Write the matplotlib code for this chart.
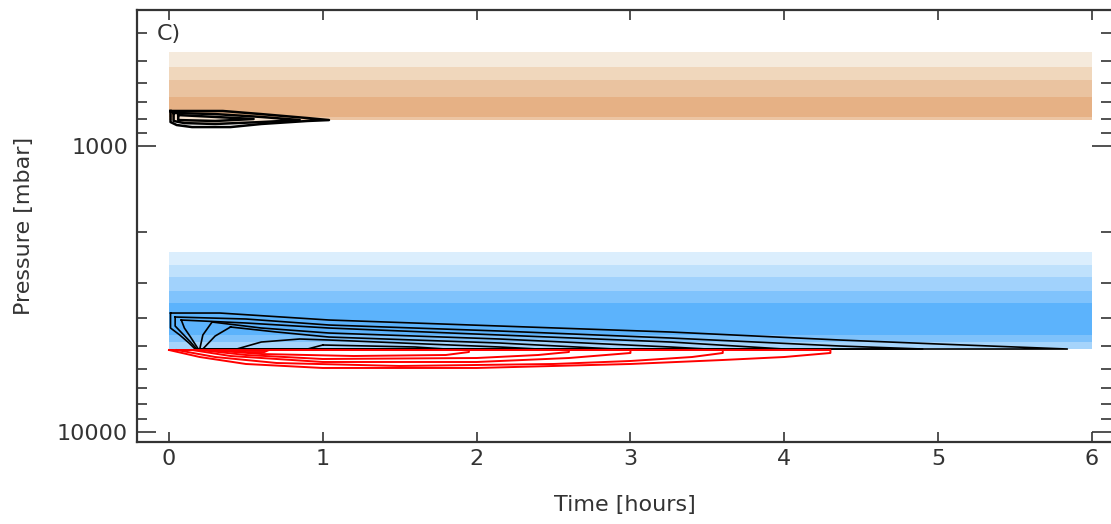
import matplotlib
matplotlib.use("Agg")
import matplotlib.pyplot as plt
from matplotlib.ticker import LogLocator, NullFormatter

# time axis of the shaded bands (hours)
band_time = [0, 6]

# pressure levels bounding the shaded bands (mbar) and their colours
upper_edges = [467, 527, 585, 671, 788, 808]
upper_colors = ["#f5eadc", "#f0d7bc", "#eac3a0", "#e6b185", "#ecc5a3"]
lower_edges = [2342, 2601, 2865, 3208, 3534, 4574, 4840, 5100]
lower_colors = ["#dbeefd", "#bfe1fc", "#a1d2fc", "#80c3fc", "#5cb3fc", "#7fc2fb", "#a6d4fb"]

# black contours in the upper band (time, pressure)
upper_lines = [
    ([0.01, 0.35, 0.6, 0.9, 1.04, 0.9, 0.6, 0.4, 0.15, 0.05, 0.01, 0.01],
     [751, 751, 770, 795, 808, 814, 834, 855, 855, 841, 821, 751]),
    ([0.03, 0.3, 0.6, 0.85, 0.6, 0.3, 0.1, 0.03, 0.03],
     [763, 770, 788, 808, 821, 834, 828, 814, 763]),
    ([0.06, 0.3, 0.55, 0.3, 0.06, 0.06],
     [776, 788, 801, 814, 808, 776]),
]

# black contours in the lower band
lower_lines = [
    ([0.01, 0.33, 1.04, 2.15, 3.26, 4.36, 5.0, 5.84, 0.17, 0.13, 0.07, 0.01, 0.01],
     [3831, 3831, 4053, 4254, 4465, 4762, 4918, 5121, 5121, 4879, 4574, 4323, 3831]),
    ([0.04, 0.5, 1.04, 2.15, 3.26, 4.36, 4.9, 0.18, 0.14, 0.09, 0.04, 0.04],
     [3956, 4020, 4220, 4429, 4686, 4998, 5121, 5121, 4840, 4537, 4254, 3956]),
    ([0.08, 0.5, 1.04, 2.15, 3.26, 4.0, 0.19, 0.14, 0.1, 0.08],
     [4053, 4152, 4323, 4574, 4840, 5121, 5121, 4649, 4323, 4053]),
    ([0.28, 0.6, 1.04, 2.15, 3.26, 3.5, 0.2, 0.22, 0.28],
     [4119, 4323, 4501, 4724, 5039, 5121, 5121, 4574, 4119]),
    ([0.4, 0.7, 1.04, 2.15, 2.9, 0.22, 0.3, 0.4],
     [4288, 4465, 4649, 4879, 5121, 5121, 4611, 4288]),
    ([0.44, 0.6, 0.85, 1.04, 2.15, 2.4, 0.44],
     [5121, 4840, 4724, 4762, 5039, 5121, 5121]),
    ([1.0, 1.6, 1.8, 0.9, 1.0],
     [4958, 5039, 5121, 5121, 4958]),
]

# red contours below the lower band
red_lines = [
    ([0, 0.2, 0.5, 1.0, 2.0, 3.0, 3.6, 4.0, 4.3, 4.3, 0],
     [5162, 5462, 5778, 5967, 5967, 5778, 5595, 5462, 5288, 5162, 5162]),
    ([0.05, 0.3, 0.7, 1.5, 2.5, 3.0, 3.4, 3.6, 3.6, 0.05],
     [5162, 5462, 5732, 5872, 5778, 5640, 5462, 5288, 5162, 5162]),
    ([0.15, 0.4, 1.0, 2.0, 2.6, 3.0, 3.0, 0.15],
     [5162, 5418, 5686, 5686, 5506, 5288, 5162, 5162]),
    ([0.2, 0.5, 1.0, 2.0, 2.4, 2.6, 2.6, 0.2],
     [5162, 5374, 5550, 5506, 5374, 5246, 5162, 5162]),
    ([0.25, 0.6, 1.2, 1.8, 1.95, 1.95, 0.25],
     [5162, 5331, 5418, 5374, 5246, 5162, 5162]),
    ([0.35, 0.5, 0.62, 0.65, 0.35],
     [5162, 5246, 5246, 5162, 5162]),
]

x_ticks = [0, 1, 2, 3, 4, 5, 6]
y_ticks = [1000, 10000]
y_ticklabels = ["1000", "10000"]

text_color = "#333333"
plt.rcParams["font.family"] = ["DejaVu Sans"]

fig = plt.figure(figsize=(11.11, 5.24), dpi=100)
ax = fig.add_axes([137 / 1111, 82 / 524, 974 / 1111, 432 / 524])

for lo, hi, c in zip(upper_edges[:-1], upper_edges[1:], upper_colors):
    ax.fill_between(band_time, lo, hi, color=c, lw=0)
for lo, hi, c in zip(lower_edges[:-1], lower_edges[1:], lower_colors):
    ax.fill_between(band_time, lo, hi, color=c, lw=0)

ax.fill(upper_lines[1][0], upper_lines[1][1], color="#f6e2ce", lw=0)
for t, p in upper_lines:
    ax.plot(t, p, color="black", lw=1.8)
for t, p in lower_lines:
    ax.plot(t, p, color="black", lw=1.2)
for t, p in red_lines:
    ax.plot(t, p, color="#ff0000", lw=1.4)

ax.set_yscale("log")
ax.set_xlim(-0.208, 6.124)
ax.set_ylim(10840, 332.6)

ax.set_xticks(x_ticks)
ax.set_yticks(y_ticks)
ax.set_yticklabels(y_ticklabels)
ax.yaxis.set_minor_locator(LogLocator(base=10, subs=range(2, 10)))
ax.yaxis.set_minor_formatter(NullFormatter())

ax.tick_params(axis="x", which="major", direction="in", length=7.5, width=1.2,
               top=True, bottom=True, pad=5, labelsize=16, labelcolor=text_color,
               color=text_color)
ax.tick_params(axis="y", which="major", direction="in", length=14, width=1.2,
               left=True, right=True, pad=6.5, labelsize=16, labelcolor=text_color,
               color=text_color)
ax.tick_params(axis="y", which="minor", direction="in", length=7, width=1.2,
               left=True, right=True, color=text_color)

for s in ax.spines.values():
    s.set_linewidth(1.6)
    s.set_color(text_color)
ax.spines["right"].set_visible(False)

fig.text(625 / 1111, 1 - 505 / 524, "Time [hours]", ha="center", va="center",
         fontsize=16, color=text_color)
fig.text(24 / 1111, 1 - 226 / 524, "Pressure [mbar]", ha="center", va="center",
         rotation=90, fontsize=16, color=text_color)
ax.text(20 / 974, 1 - 24 / 432, "C)", transform=ax.transAxes,
        ha="left", va="center", fontsize=16, color=text_color)

fig.savefig("out.png", dpi=100)
